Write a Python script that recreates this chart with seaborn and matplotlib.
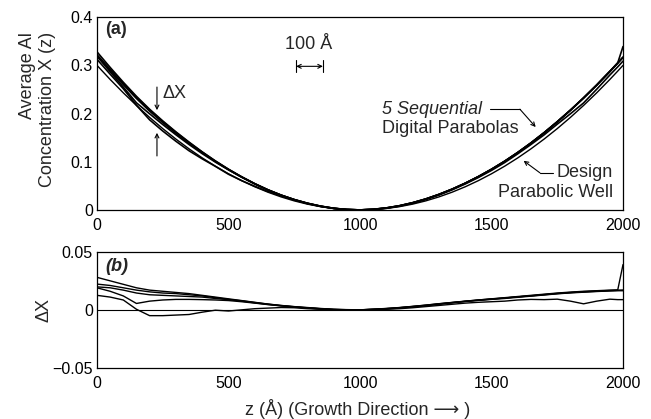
import numpy as np
import pandas as pd
import matplotlib
matplotlib.use("Agg")
import matplotlib.pyplot as plt
import seaborn as sns

# ---- data ----
z = [0, 50, 100, 150, 200, 250, 300, 350, 400, 450, 500, 550, 600, 650, 700, 750,
     800, 850, 900, 950, 1000, 1050, 1100, 1150, 1200, 1250, 1300, 1350, 1400, 1450,
     1500, 1550, 1600, 1650, 1700, 1750, 1800, 1850, 1900, 1950, 1980, 2000]

design = [0.3, 0.27075, 0.243, 0.21675, 0.192, 0.16875, 0.147, 0.12675, 0.108, 0.09075,
          0.075, 0.06075, 0.048, 0.03675, 0.027, 0.01875, 0.012, 0.00675, 0.003, 0.00075,
          0.0, 0.00075, 0.003, 0.00675, 0.012, 0.01875, 0.027, 0.03675, 0.048, 0.06075,
          0.075, 0.09075, 0.108, 0.12675, 0.147, 0.16875, 0.192, 0.21675, 0.243, 0.27075,
          0.28812, 0.3]

dx_run1 = [0.028, 0.025, 0.022, 0.019, 0.017, 0.016, 0.015, 0.014, 0.0125, 0.011,
           0.0095, 0.008, 0.0065, 0.005, 0.0038, 0.0028, 0.002, 0.0012, 0.0005, 0.0002,
           0.0, 0.0003, 0.0008, 0.0015, 0.0025, 0.0035, 0.0048, 0.006, 0.0072, 0.0082,
           0.0092, 0.0102, 0.0112, 0.012, 0.013, 0.014, 0.0148, 0.0155, 0.016, 0.0165,
           0.0168, 0.017]
dx_run2 = [0.0222, 0.021, 0.019, 0.017, 0.0155, 0.0145, 0.014, 0.013, 0.012, 0.0105,
           0.009, 0.0078, 0.0063, 0.0049, 0.0037, 0.0027, 0.0018, 0.001, 0.0004, 0.0001,
           0.0, 0.0004, 0.001, 0.0018, 0.0028, 0.0038, 0.005, 0.0062, 0.0074, 0.0085,
           0.0095, 0.0105, 0.0115, 0.0125, 0.0135, 0.0145, 0.0153, 0.016, 0.0165, 0.017,
           0.0172, 0.039]
dx_run3 = [0.0198, 0.019, 0.017, 0.0145, 0.013, 0.0125, 0.012, 0.0115, 0.011, 0.0098,
           0.0088, 0.0075, 0.006, 0.0047, 0.0035, 0.0025, 0.0016, 0.0009, 0.0003, 0.0,
           0.0, 0.0005, 0.0011, 0.0019, 0.0029, 0.004, 0.0052, 0.0063, 0.0073, 0.0082,
           0.009, 0.0098, 0.0108, 0.0118, 0.0128, 0.0138, 0.0146, 0.0152, 0.0158, 0.0163,
           0.0165, 0.0165]
dx_run4 = [0.019, 0.016, 0.012, 0.0055, 0.0075, 0.0085, 0.009, 0.009, 0.0088, 0.0085,
           0.008, 0.007, 0.0058, 0.0045, 0.0034, 0.0024, 0.0015, 0.0008, 0.0002, 0.0,
           0.0, 0.0006, 0.0012, 0.002, 0.003, 0.0041, 0.0053, 0.0064, 0.0075, 0.0085,
           0.0094, 0.0102, 0.0112, 0.0122, 0.0132, 0.0142, 0.015, 0.0157, 0.0162, 0.0167,
           0.0168, 0.0168]
dx_run5 = [0.0125, 0.011, 0.0085, 0.0005, -0.005, -0.005, -0.0045, -0.004, -0.002, -0.0003,
           -0.001, 0.0, 0.001, 0.0015, 0.002, 0.0018, 0.001, 0.0005, 0.0, 0.0,
           0.0, 0.0002, 0.0005, 0.001, 0.0018, 0.0028, 0.0038, 0.0048, 0.0058, 0.0065,
           0.007, 0.0075, 0.0085, 0.009, 0.0088, 0.0092, 0.0075, 0.0052, 0.0075, 0.0092,
           0.0088, 0.0088]

runs = [dx_run1, dx_run2, dx_run3, dx_run4, dx_run5]

x_ticks = [0, 500, 1000, 1500, 2000]
x_ticklabels = ["0", "500", "1000", "1500", "2000"]
top_yticks = [0, 0.1, 0.2, 0.3, 0.4]
top_yticklabels = ["0", "0.1", "0.2", "0.3", "0.4"]
bot_yticks = [-0.05, 0, 0.05]
bot_yticklabels = ["\u22120.05", "0", "0.05"]

# ---- long-form tables ----
rows = []
for i, dx in enumerate(runs):
    for zz, d, dd in zip(z, design, dx):
        rows.append({"z": zz, "run": i, "dX": dd, "X": d + dd})
df_runs = pd.DataFrame(rows)
df_design = pd.DataFrame({"z": z, "X": design})

sns.set_theme(style="white")
plt.rcParams["font.family"] = ["Liberation Sans", "DejaVu Sans"]
plt.rcParams["axes.edgecolor"] = "black"
plt.rcParams["axes.linewidth"] = 0.9

fig = plt.figure(figsize=(6.51, 4.19), dpi=100)
ax1 = fig.add_axes([0.149, 0.499, 0.808, 0.460])
ax2 = fig.add_axes([0.149, 0.122, 0.808, 0.277])

FS = 13

# ---- top panel ----
sns.lineplot(data=df_runs, x="z", y="X", units="run", estimator=None,
             color="black", lw=1.2, ax=ax1, legend=False)
sns.lineplot(data=df_design, x="z", y="X", color="black", lw=1.0, ax=ax1)
ax1.set_xlim(0, 2000)
ax1.set_ylim(0, 0.4)
ax1.set_xticks(x_ticks)
ax1.set_xticklabels(x_ticklabels)
ax1.set_yticks(top_yticks)
ax1.set_yticklabels(top_yticklabels)
ax1.set_xlabel("")
ax1.set_ylabel("")

# ---- bottom panel ----
ax2.axhline(0, color="black", lw=0.8)
sns.lineplot(data=df_runs, x="z", y="dX", units="run", estimator=None,
             color="black", lw=1.0, ax=ax2, legend=False)
ax2.set_xlim(0, 2000)
ax2.set_ylim(-0.05, 0.05)
ax2.set_xticks(x_ticks)
ax2.set_xticklabels(x_ticklabels)
ax2.set_yticks(bot_yticks)
ax2.set_yticklabels(bot_yticklabels)
ax2.set_ylabel("")
ax2.set_xlabel("")

for ax in (ax1, ax2):
    ax.tick_params(axis="both", direction="in", length=8, width=0.9,
                   labelsize=11.5, pad=3, colors="black", labelcolor="black")
    ax.tick_params(axis="x", pad=6)
    for s in ax.spines.values():
        s.set_visible(True)
        s.set_color("black")

fig.text(0.058, 0.924, "Average Al\nConcentration X (z)", rotation=90,
         ha="center", va="top", multialignment="right", fontsize=FS, linespacing=1.2)
fig.text(0.068, 0.26, "\u0394X", rotation=90, ha="center", va="center", fontsize=FS)
fig.text(0.55, 0.024, "z (Å) (Growth Direction \u27f6 )", ha="center", va="center",
         fontsize=FS)

# ---- annotations top ----
ax1.text(30, 0.375, "(a)", fontsize=FS, fontweight="bold", ha="left", va="center")
ax1.text(805, 0.344, "100 Å", fontsize=FS, ha="center", va="center")
ax1.annotate("", xy=(757, 0.298), xytext=(859, 0.298),
             arrowprops=dict(arrowstyle="<->", lw=0.8, color="black", shrinkA=0, shrinkB=0,
                             mutation_scale=7))
ax1.plot([757, 757], [0.286, 0.311], color="black", lw=0.8)
ax1.plot([859, 859], [0.286, 0.311], color="black", lw=0.8)

ax1.text(250, 0.242, "\u0394X", fontsize=FS, ha="left", va="center")
ax1.annotate("", xy=(228, 0.207), xytext=(228, 0.255),
             arrowprops=dict(arrowstyle="->", lw=0.8, color="black", shrinkA=0, shrinkB=0,
                             mutation_scale=7))
ax1.annotate("", xy=(228, 0.160), xytext=(228, 0.112),
             arrowprops=dict(arrowstyle="->", lw=0.8, color="black", shrinkA=0, shrinkB=0,
                             mutation_scale=7))

ax1.text(1084, 0.209, "5 Sequential", fontsize=FS, style="italic", ha="left", va="center")
ax1.text(1084, 0.170, "Digital Parabolas", fontsize=FS, ha="left", va="center")
ax1.plot([1494, 1608], [0.209, 0.209], color="black", lw=0.8)
ax1.annotate("", xy=(1668, 0.172), xytext=(1608, 0.209),
             arrowprops=dict(arrowstyle="->", lw=0.8, color="black", shrinkA=0, shrinkB=0,
                             mutation_scale=7))

ax1.text(1962, 0.077, "Design", fontsize=FS, ha="right", va="center")
ax1.text(1962, 0.037, "Parabolic Well", fontsize=FS, ha="right", va="center")
ax1.plot([1734, 1684], [0.077, 0.077], color="black", lw=0.8)
ax1.annotate("", xy=(1622, 0.102), xytext=(1684, 0.077),
             arrowprops=dict(arrowstyle="->", lw=0.8, color="black", shrinkA=0, shrinkB=0,
                             mutation_scale=7))

# ---- annotations bottom ----
ax2.text(30, 0.037, "(b)", fontsize=FS, fontweight="bold", style="italic",
         ha="left", va="center")

fig.savefig("out.png", dpi=100)
